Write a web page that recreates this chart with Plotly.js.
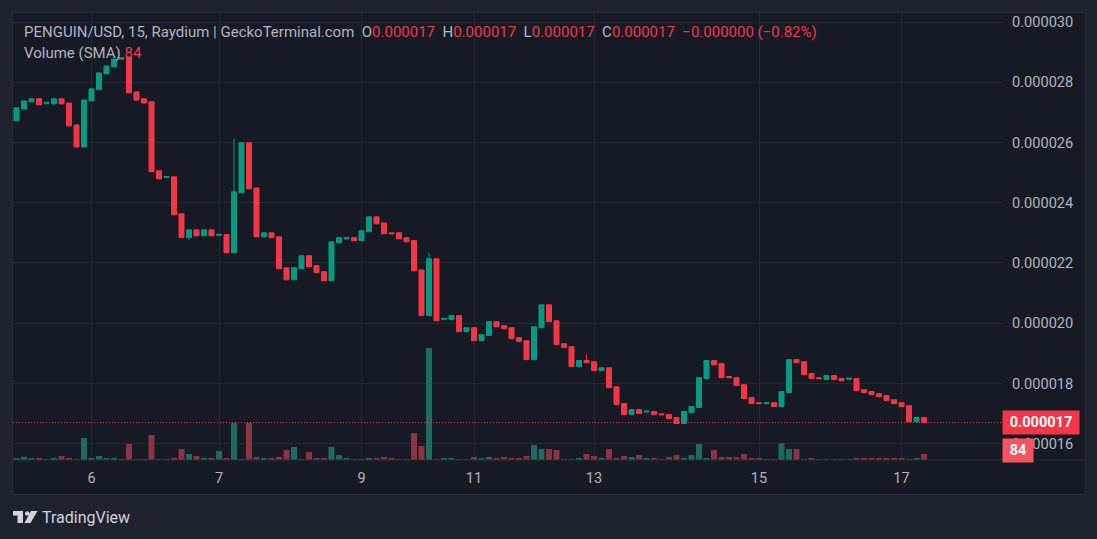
<!DOCTYPE html>
<html>
<head>
<meta charset="utf-8">
<script src="https://cdn.plot.ly/plotly-3.0.1.min.js"></script>
<style>
html,body{margin:0;padding:0;background:#1e222d;}
#chart{width:1097px;height:539px;}
</style>
</head>
<body>
<div id="chart"></div>
<script>
// ---- DATA (PENGUIN/USD, 15m candles, Raydium) ----
const openP = [26.72e-6,27.11e-6,27.35e-6,27.45e-6,27.30e-6,27.28e-6,27.45e-6,27.31e-6,26.58e-6,25.85e-6,
27.38e-6,27.75e-6,28.28e-6,28.51e-6,28.77e-6,28.84e-6,27.68e-6,27.45e-6,27.35e-6,25.06e-6,
24.84e-6,24.86e-6,23.63e-6,22.84e-6,23.10e-6,22.90e-6,23.10e-6,22.92e-6,22.94e-6,22.34e-6,
24.33e-6,25.99e-6,24.49e-6,22.87e-6,23.00e-6,22.87e-6,21.84e-6,21.44e-6,21.81e-6,22.24e-6,
21.91e-6,21.71e-6,21.41e-6,22.67e-6,22.80e-6,22.84e-6,22.74e-6,23.04e-6,23.53e-6,23.33e-6,
23.00e-6,23.00e-6,22.84e-6,22.74e-6,21.77e-6,20.25e-6,22.14e-6,20.13e-6,20.12e-6,20.25e-6,
19.72e-6,19.85e-6,19.42e-6,19.59e-6,20.05e-6,19.92e-6,19.85e-6,19.52e-6,19.42e-6,18.79e-6,
19.85e-6,20.61e-6,20.08e-6,19.32e-6,19.22e-6,18.56e-6,18.76e-6,18.72e-6,18.43e-6,18.52e-6,
17.89e-6,17.33e-6,16.97e-6,17.13e-6,17.05e-6,17.07e-6,16.99e-6,16.97e-6,16.87e-6,16.67e-6,
17.03e-6,17.20e-6,18.16e-6,18.76e-6,18.66e-6,18.23e-6,18.19e-6,17.96e-6,17.53e-6,17.36e-6,
17.33e-6,17.36e-6,17.23e-6,17.70e-6,18.79e-6,18.72e-6,18.33e-6,18.19e-6,18.13e-6,18.26e-6,
18.16e-6,18.14e-6,18.16e-6,17.79e-6,17.73e-6,17.66e-6,17.60e-6,17.46e-6,17.36e-6,17.26e-6,
16.73e-6,16.87e-6];
const closeP = [27.15e-6,27.38e-6,27.45e-6,27.25e-6,27.33e-6,27.45e-6,27.28e-6,26.55e-6,25.85e-6,27.41e-6,
27.78e-6,28.31e-6,28.54e-6,28.77e-6,28.81e-6,27.65e-6,27.41e-6,27.31e-6,25.03e-6,24.79e-6,
24.87e-6,23.60e-6,22.84e-6,23.10e-6,22.90e-6,23.10e-6,22.90e-6,22.95e-6,22.34e-6,24.36e-6,
25.99e-6,24.46e-6,22.87e-6,23.00e-6,22.84e-6,21.81e-6,21.44e-6,21.84e-6,22.24e-6,21.87e-6,
21.68e-6,21.41e-6,22.70e-6,22.84e-6,22.84e-6,22.74e-6,23.07e-6,23.53e-6,23.30e-6,22.97e-6,
22.97e-6,22.80e-6,22.70e-6,21.74e-6,20.25e-6,22.14e-6,20.08e-6,20.16e-6,20.25e-6,19.72e-6,
19.85e-6,19.42e-6,19.62e-6,20.05e-6,19.88e-6,19.82e-6,19.49e-6,19.39e-6,18.79e-6,19.88e-6,
20.61e-6,20.05e-6,19.29e-6,19.19e-6,18.56e-6,18.76e-6,18.69e-6,18.43e-6,18.52e-6,17.86e-6,
17.30e-6,16.97e-6,17.13e-6,17.00e-6,17.08e-6,16.97e-6,16.96e-6,16.83e-6,16.67e-6,17.07e-6,
17.23e-6,18.19e-6,18.76e-6,18.62e-6,18.19e-6,18.19e-6,17.93e-6,17.50e-6,17.33e-6,17.33e-6,
17.36e-6,17.23e-6,17.73e-6,18.79e-6,18.69e-6,18.29e-6,18.16e-6,18.16e-6,18.26e-6,18.13e-6,
18.09e-6,18.17e-6,17.76e-6,17.70e-6,17.63e-6,17.56e-6,17.43e-6,17.33e-6,17.23e-6,16.73e-6,
16.87e-6,16.70e-6];
const highP = [27.15e-6,27.38e-6,27.45e-6,27.45e-6,27.33e-6,27.45e-6,27.45e-6,27.31e-6,26.58e-6,27.41e-6,
27.78e-6,28.31e-6,28.54e-6,28.77e-6,28.81e-6,28.84e-6,27.68e-6,27.45e-6,27.35e-6,25.06e-6,
24.87e-6,24.86e-6,23.63e-6,23.10e-6,23.10e-6,23.10e-6,23.10e-6,22.95e-6,22.94e-6,26.12e-6,
25.99e-6,25.99e-6,24.49e-6,23.00e-6,23.00e-6,22.87e-6,21.84e-6,21.84e-6,22.24e-6,22.24e-6,
21.91e-6,21.71e-6,22.70e-6,22.84e-6,22.84e-6,22.84e-6,23.07e-6,23.53e-6,23.53e-6,23.33e-6,
23.00e-6,23.00e-6,22.84e-6,22.74e-6,21.77e-6,22.34e-6,22.14e-6,20.16e-6,20.25e-6,20.25e-6,
19.85e-6,19.85e-6,19.62e-6,20.05e-6,20.05e-6,19.92e-6,19.85e-6,19.52e-6,19.42e-6,19.88e-6,
20.61e-6,20.61e-6,20.08e-6,19.32e-6,19.22e-6,18.76e-6,18.96e-6,18.72e-6,18.52e-6,18.52e-6,
17.89e-6,17.33e-6,17.13e-6,17.13e-6,17.08e-6,17.07e-6,16.99e-6,16.97e-6,16.87e-6,17.07e-6,
17.23e-6,18.19e-6,18.76e-6,18.76e-6,18.66e-6,18.23e-6,18.19e-6,17.96e-6,17.53e-6,17.36e-6,
17.36e-6,17.36e-6,17.73e-6,18.79e-6,18.79e-6,18.72e-6,18.33e-6,18.19e-6,18.26e-6,18.26e-6,
18.16e-6,18.17e-6,18.16e-6,17.79e-6,17.73e-6,17.66e-6,17.60e-6,17.46e-6,17.36e-6,17.26e-6,
16.90e-6,16.87e-6];
const lowP = [26.72e-6,27.11e-6,27.35e-6,27.25e-6,27.30e-6,27.28e-6,27.28e-6,26.55e-6,25.85e-6,25.85e-6,
27.38e-6,27.75e-6,28.28e-6,28.51e-6,28.77e-6,27.65e-6,27.41e-6,27.31e-6,25.03e-6,24.79e-6,
24.84e-6,23.60e-6,22.84e-6,22.77e-6,22.90e-6,22.90e-6,22.90e-6,22.92e-6,22.34e-6,22.34e-6,
24.33e-6,24.46e-6,22.87e-6,22.87e-6,22.84e-6,21.81e-6,21.44e-6,21.44e-6,21.81e-6,21.87e-6,
21.68e-6,21.41e-6,21.41e-6,22.67e-6,22.80e-6,22.74e-6,22.74e-6,23.04e-6,23.30e-6,22.97e-6,
22.97e-6,22.80e-6,22.70e-6,21.74e-6,20.25e-6,20.25e-6,20.08e-6,20.13e-6,20.12e-6,19.72e-6,
19.72e-6,19.42e-6,19.42e-6,19.59e-6,19.88e-6,19.82e-6,19.49e-6,19.39e-6,18.79e-6,18.79e-6,
19.85e-6,20.05e-6,19.29e-6,19.19e-6,18.56e-6,18.56e-6,18.69e-6,18.43e-6,18.43e-6,17.86e-6,
17.30e-6,16.97e-6,16.97e-6,17.00e-6,17.05e-6,16.97e-6,16.96e-6,16.83e-6,16.67e-6,16.67e-6,
17.03e-6,17.20e-6,18.16e-6,18.62e-6,18.19e-6,18.19e-6,17.93e-6,17.50e-6,17.33e-6,17.33e-6,
17.33e-6,17.23e-6,17.23e-6,17.70e-6,18.69e-6,18.29e-6,18.16e-6,18.16e-6,18.13e-6,18.13e-6,
18.09e-6,18.14e-6,17.76e-6,17.70e-6,17.63e-6,17.56e-6,17.43e-6,17.33e-6,17.23e-6,16.73e-6,
16.73e-6,16.70e-6];
const volume = [28,42,28,28,14,28,56,28,14,308,
28,56,28,28,14,224,14,14,350,14,
14,28,154,84,56,28,28,126,28,518,
14,518,42,28,28,42,140,182,14,112,
28,28,182,70,28,14,14,28,28,42,
28,14,14,378,196,1568,14,28,28,14,
14,42,28,42,28,42,28,28,56,210,
154,154,140,14,14,28,84,56,28,154,
28,56,42,70,28,28,14,42,70,28,
70,224,28,140,42,42,42,84,28,28,
14,14,238,154,154,14,28,14,14,14,
14,14,28,28,28,28,28,28,28,14,
28,84];
const dayTickIndex = [10, 27, 46, 61, 77, 99, 118];
const dayTickText = ["6", "7", "9", "11", "13", "15", "17"];
const priceTicks = [16e-6, 18e-6, 20e-6, 22e-6, 24e-6, 26e-6, 28e-6, 30e-6];
const volumeSMA = 84;
const changeText = "\u22120.000000 (\u22120.82%)";

// ---- STYLE ----
const UP = '#089981', DOWN = '#f23645';
const UPV = '#1d6b5f', DOWNV = '#8a3341';
const GRID = '#242833';
const TXT = '#b2b5be';
const FONT = 'Roboto, "DejaVu Sans", sans-serif';

const idx = openP.map((_, i) => i);
const volColors = openP.map((o, i) => closeP[i] >= o ? UPV : DOWNV);
const lastClose = closeP[closeP.length - 1];
const lastVol = volume[volume.length - 1];

// pixel -> paper helpers for decorations (plot area x 13..1002, y 13..460)
const L = 13, R = 1002, T = 13, B = 460;
const px = x => (x - L) / (R - L);
const py = y => (B - y) / (B - T);

const volTrace = {
  type: 'bar', x: idx, y: volume, yaxis: 'y2',
  marker: {color: volColors, line: {width: 0}}, width: 0.8,
  hoverinfo: 'skip'
};
const candle = {
  type: 'candlestick', x: idx, open: openP, high: highP, low: lowP, close: closeP,
  increasing: {line: {color: UP, width: 1}, fillcolor: UP},
  decreasing: {line: {color: DOWN, width: 1}, fillcolor: DOWN},
  whiskerwidth: 0, hoverinfo: 'skip'
};

const red = s => '<span style="color:' + DOWN + '">' + s + '</span>';
const sp = '\u00a0\u00a0';
const O = closeP.length - 1;
const fmt = v => v.toFixed(6);
const header = 'PENGUIN/USD, 15, Raydium | GeckoTerminal.com' + sp +
  'O' + red(fmt(openP[O])) + sp + 'H' + red(fmt(highP[O])) + sp +
  'L' + red(fmt(lowP[O])) + sp + 'C' + red(fmt(closeP[O])) + sp + red(changeText);

const logoPath = (() => {
  const P = (x, y) => px(x).toFixed(5) + ',' + py(y).toFixed(5);
  return 'M' + P(13, 511) + ' L' + P(23, 511) + ' L' + P(23, 523) + ' L' + P(17.5, 523) +
    ' L' + P(17.5, 515.5) + ' L' + P(13, 515.5) + ' Z' +
    ' M' + P(31, 511) + ' L' + P(37.5, 511) + ' L' + P(30.5, 523) + ' L' + P(24.5, 523) + ' Z';
})();

const layout = {
  width: 1097, height: 539,
  margin: {l: L, r: 1097 - R, t: T, b: 539 - B, pad: 0},
  paper_bgcolor: '#1e222d', plot_bgcolor: 'rgba(0,0,0,0)',
  showlegend: false, hovermode: false, dragmode: false,
  boxgap: 0.33, boxgroupgap: 0,
  font: {family: FONT, size: 14, color: TXT},
  xaxis: {
    range: [-0.467, 131.4], rangeslider: {visible: false},
    tickmode: 'array', tickvals: dayTickIndex, ticktext: dayTickText,
    showgrid: true, gridcolor: GRID, gridwidth: 1, zeroline: false, showline: false,
    ticks: '', ticklabelstandoff: 7,
    tickfont: {family: FONT, size: 14.5, color: TXT}, fixedrange: true
  },
  yaxis: {
    side: 'right', range: [15.458e-6, 30.2988e-6],
    tickmode: 'array', tickvals: priceTicks, tickformat: '.6f',
    showgrid: true, gridcolor: GRID, gridwidth: 1, zeroline: false, showline: false,
    ticks: '', ticklabelstandoff: 9,
    tickfont: {family: FONT, size: 14.6, color: TXT}, fixedrange: true
  },
  yaxis2: {
    overlaying: 'y', range: [0, 447 * 14], visible: false, fixedrange: true
  },
  shapes: [
    {type: 'rect', xref: 'paper', yref: 'paper', layer: 'below',
     x0: px(12.5), x1: px(1085.5), y0: py(494.5), y1: py(12.5),
     fillcolor: '#161a25', line: {color: '#2a2e39', width: 1}},
    {type: 'line', xref: 'paper', yref: 'paper', layer: 'above',
     x0: px(12.5), x1: px(1085.5), y0: 0, y1: 0,
     line: {color: '#2a2e39', width: 1}},
    {type: 'line', xref: 'paper', yref: 'y', layer: 'above',
     x0: 0, x1: 1, y0: lastClose, y1: lastClose,
     line: {color: DOWN, width: 1, dash: '1px,2px'}},
    {type: 'path', xref: 'paper', yref: 'paper', path: logoPath,
     fillcolor: '#d1d4dc', line: {width: 0}},
    {type: 'circle', xref: 'paper', yref: 'paper',
     x0: px(25), x1: px(29.4), y0: py(511.3), y1: py(515.7),
     fillcolor: '#d1d4dc', line: {width: 0}}
  ],
  annotations: [
    {xref: 'paper', yref: 'paper', x: px(22), y: py(32), xanchor: 'left', yanchor: 'middle',
     text: header, showarrow: false, font: {family: FONT, size: 15, color: TXT}},
    {xref: 'paper', yref: 'paper', x: px(22), y: py(53), xanchor: 'left', yanchor: 'middle',
     text: 'Volume (SMA)\u00a0' + red(String(volumeSMA)), showarrow: false,
     font: {family: FONT, size: 15, color: TXT}},
    {xref: 'paper', yref: 'y', x: 1, y: lastClose, xanchor: 'left', yanchor: 'middle',
     text: '<b>' + fmt(lastClose) + '</b>', showarrow: false, bgcolor: DOWN,
     width: 70, borderpad: 3, font: {family: FONT, size: 14.5, color: '#ffffff'}},
    {xref: 'paper', yref: 'y2', x: 1, y: lastVol, xanchor: 'left', yanchor: 'middle', yshift: 4,
     text: '<b>' + String(volumeSMA) + '</b>', showarrow: false, bgcolor: '#f7525f',
     width: 24, borderpad: 3, font: {family: FONT, size: 14.5, color: '#ffffff'}},
    {xref: 'paper', yref: 'paper', x: px(40), y: py(517), xanchor: 'left', yanchor: 'middle',
     text: 'TradingView', showarrow: false, font: {family: FONT, size: 16, color: '#d1d4dc'}}
  ]
};

Plotly.newPlot('chart', [volTrace, candle], layout, {displayModeBar: false, staticPlot: true});
</script>
</body>
</html>
